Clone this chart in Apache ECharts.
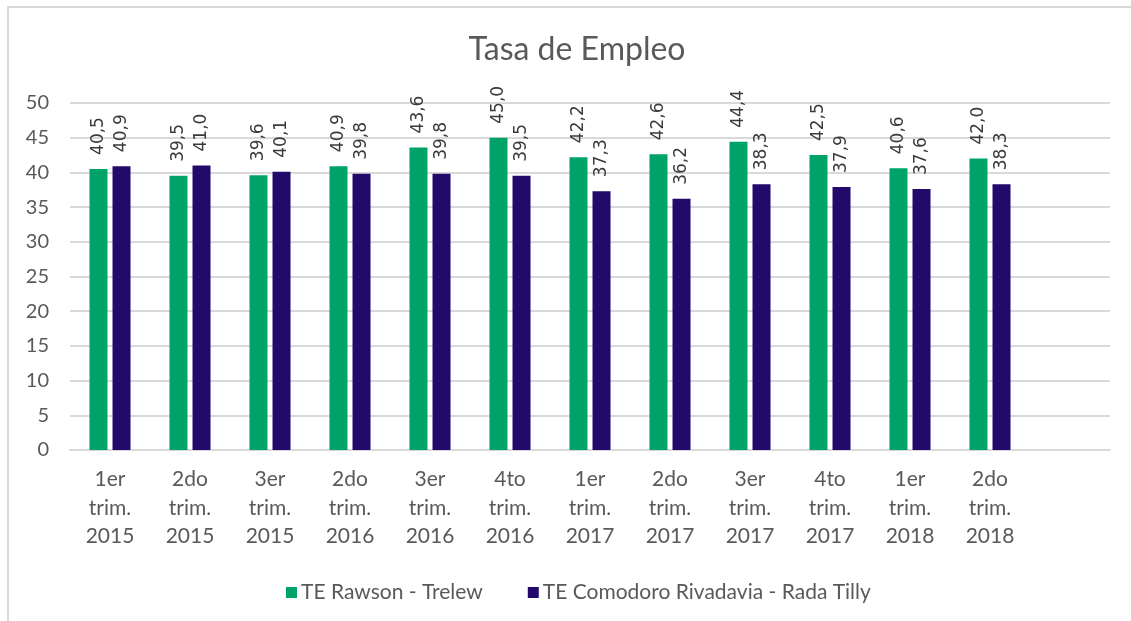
<!DOCTYPE html>
<html lang="es">
<head>
    <meta charset="UTF-8">
    <title>Tasa de Empleo</title>
    <style>
        body { margin: 0; background: #fff; overflow: hidden; }
        #frame { position: absolute; left: 7px; top: 6px; width: 1200px; height: 700px;
                 border-left: 2px solid #d9d9d9; border-top: 2px solid #d9d9d9; }
        #chart { position: absolute; left: 0; top: 0; width: 1131px; height: 621px; }
    </style>
</head>
<body>
<div id="frame"></div>
<div id="chart"></div>
<script src="https://cdn.jsdelivr.net/npm/echarts@6/dist/echarts.min.js"></script>
<script>
    var categories = ['1er\ntrim.\n2015', '2do\ntrim.\n2015', '3er\ntrim.\n2015', '2do\ntrim.\n2016',
        '3er\ntrim.\n2016', '4to\ntrim.\n2016', '1er\ntrim.\n2017', '2do\ntrim.\n2017',
        '3er\ntrim.\n2017', '4to\ntrim.\n2017', '1er\ntrim.\n2018', '2do\ntrim.\n2018'];
    var rawsonTrelew = [40.5, 39.5, 39.6, 40.9, 43.6, 45.0, 42.2, 42.6, 44.4, 42.5, 40.6, 42.0];
    var comodoroRada = [40.9, 41.0, 40.1, 39.8, 39.8, 39.5, 37.3, 36.2, 38.3, 37.9, 37.6, 38.3];
    var yTicks = [0, 5, 10, 15, 20, 25, 30, 35, 40, 45, 50];

    var font = 'Lato';
    var txtColor = '#595959';

    function fmt(p) {
        return p.value.toFixed(1).replace('.', ',');
    }

    var valLabel = {
        show: true,
        position: 'top',
        rotate: 90,
        align: 'left',
        verticalAlign: 'middle',
        distance: 14,
        fontFamily: 'DejaVu Sans',
        fontSize: 17,
        color: '#3a3a3a',
        formatter: fmt
    };

    var chart = echarts.init(document.getElementById('chart'));
    var option = {
        animation: false,
        title: {
            text: 'Tasa de Empleo',
            left: 572,
            textAlign: 'center',
            top: 29,
            textStyle: { fontFamily: font, fontSize: 32, fontWeight: 'normal', color: txtColor }
        },
        legend: {
            left: 281,
            top: 577,
            itemWidth: 11,
            itemHeight: 11,
            itemGap: 45,
            icon: 'rect',
            textStyle: { fontFamily: font, fontSize: 21, color: txtColor, padding: [0, 0, 0, -1] }
        },
        grid: { left: 70, right: 21, top: 103, bottom: 171, containLabel: false },
        xAxis: {
            type: 'category',
            data: categories,
            max: 12,
            axisLine: { lineStyle: { color: '#d9d9d9', width: 2 } },
            axisTick: { show: false },
            axisLabel: {
                interval: 0,
                margin: 15,
                lineHeight: 28.5,
                fontFamily: font,
                fontSize: 21,
                color: txtColor
            }
        },
        yAxis: {
            type: 'value',
            min: yTicks[0],
            max: yTicks[yTicks.length - 1],
            interval: 5,
            axisLine: { show: false },
            axisTick: { show: false },
            splitLine: { lineStyle: { color: '#d9d9d9', width: 2 } },
            axisLabel: { margin: 21, fontFamily: font, fontSize: 20, color: txtColor }
        },
        series: [{
            name: 'TE Rawson - Trelew',
            type: 'bar',
            data: rawsonTrelew,
            barWidth: 18,
            barGap: '28%',
            itemStyle: { color: '#00A367' },
            label: valLabel
        }, {
            name: 'TE Comodoro Rivadavia - Rada Tilly',
            type: 'bar',
            data: comodoroRada,
            barWidth: 18,
            itemStyle: { color: '#22096B' },
            label: valLabel
        }]
    };
    chart.setOption(option);
</script>
</body>
</html>
